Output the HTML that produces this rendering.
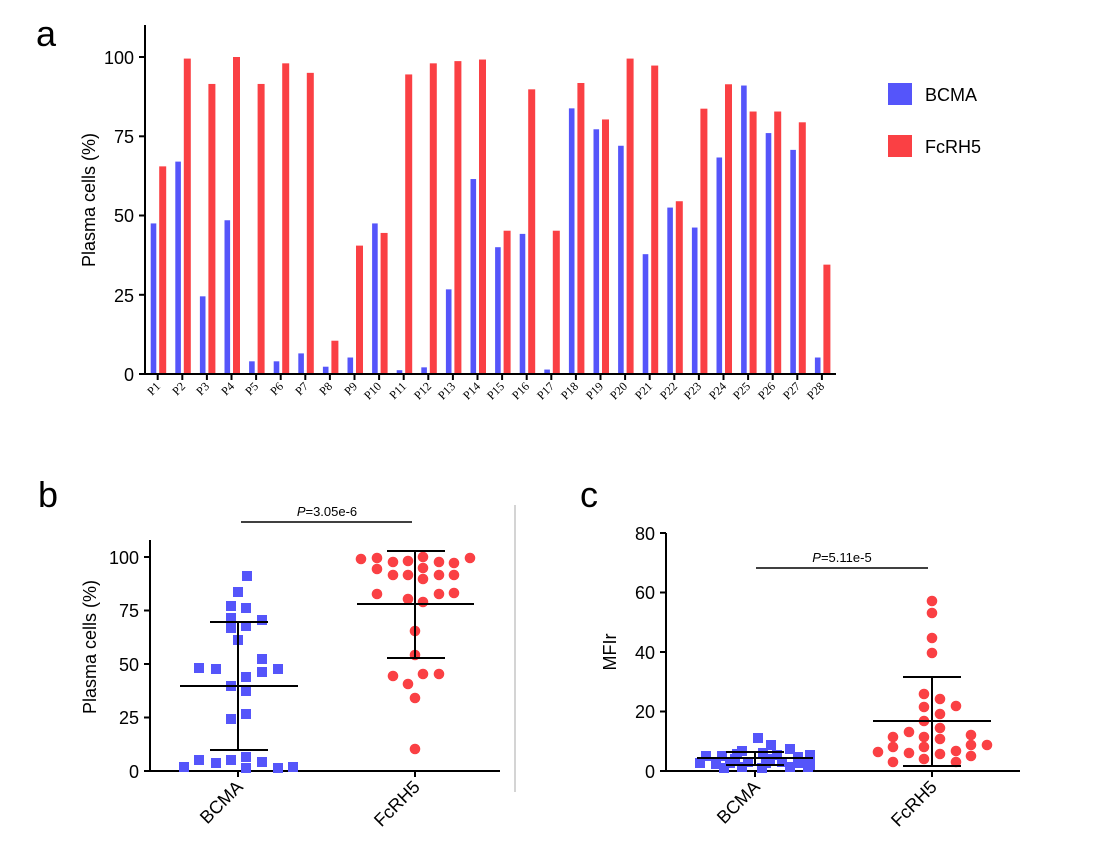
<!DOCTYPE html>
<html><head><meta charset="utf-8"><style>
html,body{margin:0;padding:0;background:#fff;}
svg{display:block;font-family:"Liberation Sans",Arial,sans-serif;}
</style></head><body>
<svg id="s" width="1117" height="864" xmlns="http://www.w3.org/2000/svg">
<g id="bars"></g>
<!-- Panel a -->
<text x="36" y="46" font-size="36">a</text>
<line x1="145" y1="25" x2="145" y2="375" stroke="#000" stroke-width="2"/>
<line x1="144" y1="374" x2="836" y2="374" stroke="#000" stroke-width="2"/>
<g stroke="#000" stroke-width="2">
<line x1="139" y1="374" x2="145" y2="374"/><line x1="139" y1="294.8" x2="145" y2="294.8"/>
<line x1="139" y1="215.5" x2="145" y2="215.5"/><line x1="139" y1="136.3" x2="145" y2="136.3"/>
<line x1="139" y1="57" x2="145" y2="57"/>
</g>
<g font-size="18" text-anchor="end">
<text x="134" y="381">0</text><text x="134" y="302">25</text><text x="134" y="222">50</text>
<text x="134" y="143">75</text><text x="134" y="64">100</text>
</g>
<text transform="translate(95,200) rotate(-90)" font-size="18" text-anchor="middle">Plasma cells (%)</text>
<g id="aticks"></g>
<g font-family="Liberation Serif,serif" font-size="12" text-anchor="end">
<text transform="translate(161,387) rotate(-45)">P1</text>
<text transform="translate(186,387) rotate(-45)">P2</text>
<text transform="translate(210,387) rotate(-45)">P3</text>
<text transform="translate(235,387) rotate(-45)">P4</text>
<text transform="translate(259,387) rotate(-45)">P5</text>
<text transform="translate(284,387) rotate(-45)">P6</text>
<text transform="translate(309,387) rotate(-45)">P7</text>
<text transform="translate(333,387) rotate(-45)">P8</text>
<text transform="translate(358,387) rotate(-45)">P9</text>
<text transform="translate(382,387) rotate(-45)">P10</text>
<text transform="translate(407,387) rotate(-45)">P11</text>
<text transform="translate(432,387) rotate(-45)">P12</text>
<text transform="translate(456,387) rotate(-45)">P13</text>
<text transform="translate(481,387) rotate(-45)">P14</text>
<text transform="translate(505,387) rotate(-45)">P15</text>
<text transform="translate(530,387) rotate(-45)">P16</text>
<text transform="translate(555,387) rotate(-45)">P17</text>
<text transform="translate(579,387) rotate(-45)">P18</text>
<text transform="translate(604,387) rotate(-45)">P19</text>
<text transform="translate(628,387) rotate(-45)">P20</text>
<text transform="translate(653,387) rotate(-45)">P21</text>
<text transform="translate(678,387) rotate(-45)">P22</text>
<text transform="translate(702,387) rotate(-45)">P23</text>
<text transform="translate(727,387) rotate(-45)">P24</text>
<text transform="translate(751,387) rotate(-45)">P25</text>
<text transform="translate(776,387) rotate(-45)">P26</text>
<text transform="translate(801,387) rotate(-45)">P27</text>
<text transform="translate(825,387) rotate(-45)">P28</text>
</g>
<rect x="888" y="83" width="24" height="22" fill="#5555fa"/>
<text x="925" y="101" font-size="18">BCMA</text>
<rect x="888" y="135" width="24" height="22" fill="#fa4044"/>
<text x="925" y="153" font-size="18">FcRH5</text>

<!-- divider -->
<line x1="515" y1="505" x2="515" y2="792" stroke="#aaa" stroke-width="1"/>

<!-- Panel b -->
<text x="38" y="507" font-size="36">b</text>
<line x1="150" y1="540" x2="150" y2="772" stroke="#000" stroke-width="2"/>
<line x1="149" y1="771" x2="500" y2="771" stroke="#000" stroke-width="2"/>
<g stroke="#000" stroke-width="2">
<line x1="144" y1="771" x2="150" y2="771"/><line x1="144" y1="717.5" x2="150" y2="717.5"/>
<line x1="144" y1="664" x2="150" y2="664"/><line x1="144" y1="610.5" x2="150" y2="610.5"/>
<line x1="144" y1="557" x2="150" y2="557"/>
<line x1="238" y1="771" x2="238" y2="777"/><line x1="415" y1="771" x2="415" y2="777"/>
</g>
<g font-size="18" text-anchor="end">
<text x="139" y="778">0</text><text x="139" y="724">25</text><text x="139" y="671">50</text>
<text x="139" y="617">75</text><text x="139" y="564">100</text>
</g>
<text transform="translate(96,647) rotate(-90)" font-size="18" text-anchor="middle">Plasma cells (%)</text>
<text transform="translate(244,788) rotate(-45)" font-size="18" text-anchor="end">BCMA</text>
<text transform="translate(421,788) rotate(-45)" font-size="18" text-anchor="end">FcRH5</text>
<line x1="241" y1="522" x2="412" y2="522" stroke="#000" stroke-width="1.5"/>
<text x="327" y="516" font-size="13" text-anchor="middle"><tspan font-style="italic">P</tspan>=3.05e-6</text>
<g id="bpts"></g>
<g stroke="#000" stroke-width="2">
<line x1="180" y1="686" x2="298" y2="686"/><line x1="238" y1="622" x2="238" y2="750"/>
<line x1="210" y1="622" x2="268" y2="622"/><line x1="210" y1="750" x2="268" y2="750"/>
<line x1="357" y1="604" x2="474" y2="604"/><line x1="415" y1="551" x2="415" y2="658"/>
<line x1="387" y1="551" x2="445" y2="551"/><line x1="387" y1="658" x2="445" y2="658"/>
</g>

<!-- Panel c -->
<text x="580" y="507" font-size="36">c</text>
<line x1="666" y1="533" x2="666" y2="772" stroke="#000" stroke-width="2"/>
<line x1="665" y1="771" x2="1020" y2="771" stroke="#000" stroke-width="2"/>
<g stroke="#000" stroke-width="2">
<line x1="660" y1="771" x2="666" y2="771"/><line x1="660" y1="711.5" x2="666" y2="711.5"/>
<line x1="660" y1="652" x2="666" y2="652"/><line x1="660" y1="592.5" x2="666" y2="592.5"/>
<line x1="660" y1="533" x2="666" y2="533"/>
<line x1="755" y1="771" x2="755" y2="777"/><line x1="932" y1="771" x2="932" y2="777"/>
</g>
<g font-size="18" text-anchor="end">
<text x="655" y="778">0</text><text x="655" y="718">20</text><text x="655" y="659">40</text>
<text x="655" y="599">60</text><text x="655" y="540">80</text>
</g>
<text transform="translate(616,652) rotate(-90)" font-size="18" text-anchor="middle">MFIr</text>
<text transform="translate(761,788) rotate(-45)" font-size="18" text-anchor="end">BCMA</text>
<text transform="translate(938,788) rotate(-45)" font-size="18" text-anchor="end">FcRH5</text>
<line x1="756" y1="568" x2="928" y2="568" stroke="#000" stroke-width="1.5"/>
<text x="842" y="562" font-size="13" text-anchor="middle"><tspan font-style="italic">P</tspan>=5.11e-5</text>
<g id="cpts"></g>
<g stroke="#000" stroke-width="2">
<line x1="697" y1="758" x2="813" y2="758"/><line x1="755" y1="752" x2="755" y2="765"/>
<line x1="726" y1="752" x2="784" y2="752"/><line x1="726" y1="765" x2="784" y2="765"/>
<line x1="873" y1="721" x2="991" y2="721"/><line x1="932" y1="677" x2="932" y2="766"/>
<line x1="903" y1="677" x2="961" y2="677"/><line x1="903" y1="766" x2="961" y2="766"/>
</g>
</svg>
<script>
var NS="http://www.w3.org/2000/svg";
function el(p,t,a){var e=document.createElementNS(NS,t);for(var k in a)e.setAttribute(k,a[k]);document.getElementById(p).appendChild(e);}
var B=[47.5,67,24.5,48.5,4,4,6.5,2.3,5.2,47.5,1.2,2.1,26.7,61.5,40,44.2,1.4,83.8,77.2,72,37.8,52.5,46.2,68.3,91,76,70.7,5.2];
var F=[65.5,99.5,91.5,100,91.5,98,95,10.5,40.5,44.5,94.5,98,98.7,99.2,45.2,89.8,45.2,91.8,80.3,99.5,97.3,54.5,83.7,91.4,82.8,82.8,79.4,34.5];
for(var i=0;i<28;i++){var c=157.7+i*24.6;
el("bars","rect",{x:c-7,y:374-B[i]*3.17,width:5.6,height:B[i]*3.17,fill:"#5555fa"});
el("bars","rect",{x:c+1.5,y:374-F[i]*3.17,width:7,height:F[i]*3.17,fill:"#fa4044"});
el("aticks","line",{x1:c,y1:374,x2:c,y2:380,stroke:"#000","stroke-width":2});}
var bs=[[247,576],[238,592],[231,606],[246,608],[231,618],[262,620],[231,628],[246,626],[238,640],[262,659],[199,668],[216,669],[262,672],[278,669],[246,677],[231,686],[246,691],[246,714],[231,719],[184,767],[199,760],[216,763],[231,760],[246,757],[246,768],[262,762],[278,768],[293,767]];
bs.forEach(function(p){el("bpts","rect",{x:p[0]-5,y:p[1]-5,width:10,height:10,fill:"#5555fa"});});
var bf=[[361,559],[377,558],[393,562],[408,561],[423,557],[439,562],[454,563],[470,558],[377,569],[423,568],[393,575],[408,575],[423,579],[439,575],[454,575],[377,594],[408,599],[423,602],[439,594],[454,593],[415,631],[415,655],[393,676],[423,674],[439,674],[408,684],[415,698],[415,749]];
bf.forEach(function(p){el("bpts","circle",{cx:p[0],cy:p[1],r:5.3,fill:"#fa4044"});});
var cb=[[758,738],[771,745],[790,749],[742,751],[763,753],[706,756],[722,756],[737,754],[777,755],[798,757],[810,755],[700,763],[716,764],[730,763],[748,762],[766,763],[782,762],[800,763],[810,765],[724,768],[742,767],[762,768],[790,767],[808,767],[735,759],[770,759]];
cb.forEach(function(p){el("cpts","rect",{x:p[0]-5,y:p[1]-5,width:10,height:10,fill:"#5555fa"});});
var cf=[[932,601],[932,613],[932,638],[932,653],[924,694],[940,699],[924,707],[956,706],[940,714],[924,721],[940,728],[909,732],[893,737],[924,737],[971,735],[940,739],[893,747],[924,747],[971,745],[987,745],[878,752],[909,753],[940,754],[956,751],[971,756],[893,762],[924,759],[956,762]];
cf.forEach(function(p){el("cpts","circle",{cx:p[0],cy:p[1],r:5.3,fill:"#fa4044"});});
</script>
</body></html>
